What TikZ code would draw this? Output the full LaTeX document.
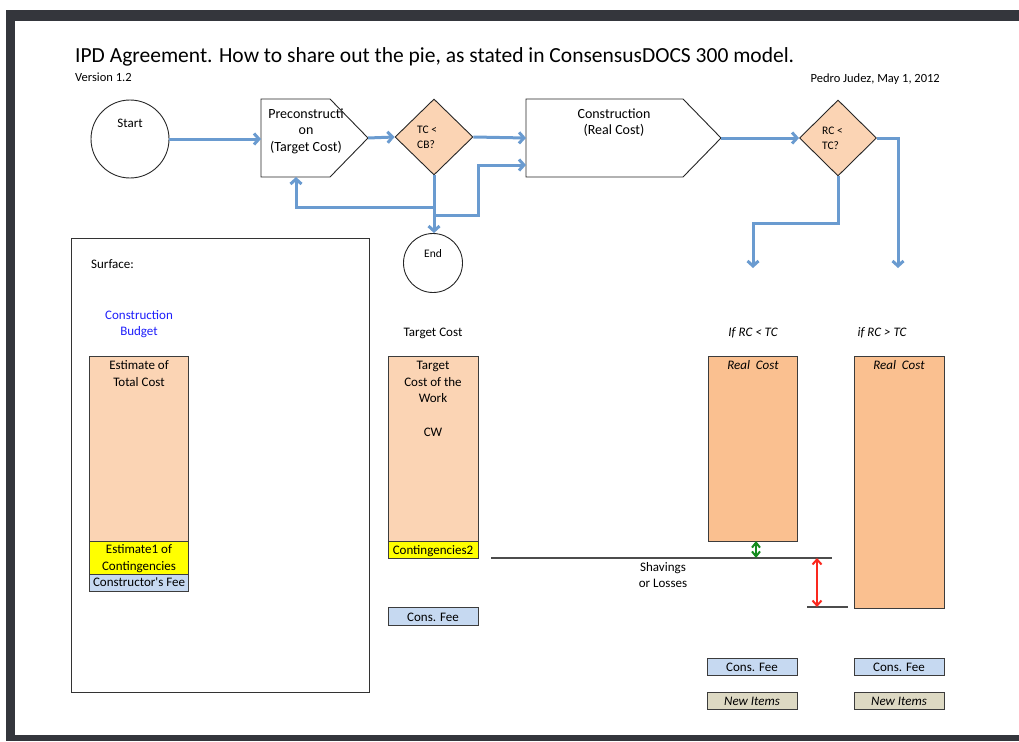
\documentclass[tikz,border=0pt]{standalone}
\usepackage{fontspec}
\setmainfont{Carlito}
\usetikzlibrary{arrows.meta,shapes.geometric}
\definecolor{framec}{RGB}{52,54,60}
\definecolor{flow}{RGB}{106,155,208}
\definecolor{peach}{RGB}{251,212,180}
\definecolor{realc}{RGB}{250,192,144}
\definecolor{feeblue}{RGB}{198,217,241}
\definecolor{tanc}{RGB}{221,217,195}
\definecolor{budget}{RGB}{30,30,250}
\definecolor{edgec}{RGB}{60,60,60}
\definecolor{yel}{RGB}{255,255,0}
\definecolor{redc}{RGB}{250,40,30}
\definecolor{greenc}{RGB}{20,140,30}
\tikzset{
  arr/.style={draw=flow, line width=3pt, -{Straight Barb[length=5pt,width=11pt]}},
  shapeline/.style={draw=black!85, line width=0.9pt, fill=white},
  bar/.style={draw=edgec, line width=1.3pt, anchor=north west, inner sep=0pt},
  t13/.style={font=\fontsize{13pt}{16.5pt}\selectfont, anchor=base, inner sep=0pt},
  t14/.style={font=\fontsize{14pt}{17pt}\selectfont, anchor=base, inner sep=0pt},
  t11/.style={font=\fontsize{11.5pt}{14pt}\selectfont, anchor=base west, inner sep=0pt},
  t12/.style={font=\fontsize{12.5pt}{15pt}\selectfont, inner sep=0pt},
  it13/.style={font=\fontsize{13pt}{16.5pt}\selectfont\itshape, anchor=base, inner sep=0pt},
  grayline/.style={draw=black!70, line width=1.5pt},
  dimarrow/.style={line width=2pt, {Straight Barb[length=5pt,width=9pt]}-{Straight Barb[length=5pt,width=9pt]}},
}
\begin{document}
\begin{tikzpicture}[x=1pt,y=-1pt]
\useasboundingbox (0,0) rectangle (1019,741);
% page frame
\fill[framec] (6,10) rectangle (1019,21);
\fill[framec] (6,10) rectangle (15,741);
\fill[framec] (6,735) rectangle (1019,741);

% header
\node[anchor=base west, font=\fontsize{21.5pt}{26pt}\selectfont, inner sep=0pt] (title) at (75,63) {IPD Agreement. How to share out the pie, as stated in ConsensusDOCS 300 model.};
\node[t12, anchor=base west] (ver) at (75,82) {Version 1.2};
\node[t12, anchor=base east] (auth) at (940,83) {Pedro Judez, May 1, 2012};

% start
\node[circle, draw=black!85, line width=0.9pt, minimum size=78pt, inner sep=0pt] (start) at (130,139) {};
\node[t13] (starttxt) at (130,128) {Start};

% preconstruction
\coordinate (preNW) at (261,99);
\coordinate (preNE) at (330,99);
\coordinate (preTip) at (368,138);
\coordinate (preSE) at (330,177);
\coordinate (preSW) at (261,177);
\coordinate (preS) at (296,177);
\draw[shapeline] (preNW) -- (preNE) -- (preTip) -- (preSE) -- (preSW) -- cycle;
\node[t14] (pre1) at (306,118) {Preconstructi};
\node[t14] (pre2) at (306,134) {on};
\node[t14] (pre3) at (306,151) {(Target Cost)};

% decision 1
\node[diamond, draw=black!85, line width=0.9pt, fill=peach, minimum width=78pt, minimum height=76pt, inner sep=0pt] (d1) at (434,137) {};
\node[t11] (d1a) at (417,133) {TC <};
\node[t11] (d1b) at (417,148) {CB?};

% construction
\coordinate (conNW) at (526,99);
\coordinate (conNE) at (683,99);
\coordinate (conTip) at (721,138);
\coordinate (conSE) at (683,177);
\coordinate (conSW) at (526,177);
\coordinate (conW) at (526,138);
\coordinate (conW2) at (526,165);
\draw[shapeline] (conNW) -- (conNE) -- (conTip) -- (conSE) -- (conSW) -- cycle;
\node[t14] (con1) at (614,118) {Construction};
\node[t14] (con2) at (614,135) {(Real Cost)};

% decision 2
\node[diamond, draw=black!85, line width=0.9pt, fill=peach, minimum width=77pt, minimum height=76pt, inner sep=0pt] (d2) at (838,138) {};
\node[t11] (d2a) at (822,134) {RC <};
\node[t11] (d2b) at (822,149) {TC?};

% end
\node[circle, draw=black!85, line width=0.9pt, minimum size=59pt, inner sep=0pt] (endc) at (433,263) {};
\node[font=\fontsize{11.5pt}{14pt}\selectfont, anchor=base, inner sep=0pt] (endtxt) at (433,257) {End};

% flow arrows
\coordinate (j1) at (434,207);
\coordinate (j2) at (434,215);
\coordinate (r1) at (753,268);
\coordinate (r2) at (898,268);
\draw[arr] (start.east) -- (start.east -| preSW);
\draw[arr] (preTip) -- (d1.west);
\draw[arr] (d1.east) -- (conW);
\draw[arr] (d1.south) -- (d1.south |- endc.north);
\draw[arr] (j1) -| (preS);
\draw[arr] (j2) -- ++(44,0) |- (conW2);
\draw[arr] (conTip) -- (d2.west);
\draw[arr] (d2.east) -| (r2);
\draw[arr] (d2.south) -- ++(0,47) -| (r1);

% surface panel
\node[draw=black!80, line width=1.3pt, minimum width=298pt, minimum height=454pt, anchor=north west, inner sep=0pt] (surf) at (71,238) {};
\node[t13, anchor=base west] (surftxt) at (91,268) {Surface:};
\node[t13, text=budget] (bud1) at (139,319) {Construction};
\node[t13, text=budget] (bud2) at (139,335) {Budget};

\node[bar, fill=peach, minimum width=99pt, minimum height=185pt] (estTC) at (89,356) {};
\node[bar, fill=yel, minimum width=99pt, minimum height=33pt] (estCont) at (89,541) {};
\node[bar, fill=feeblue, minimum width=99pt, minimum height=17pt] (estFee) at (89,574) {};
\node[t13] (e1) at (139,369) {Estimate of};
\node[t13] (e2) at (139,386) {Total Cost};
\node[t13] (e3) at (139,553) {Estimate1 of};
\node[t13] (e4) at (139,570) {Contingencies};
\node[t13] (e5) at (139,586) {Constructor\textquotesingle s Fee};

% target cost column
\node[t13] (tclab) at (433,336) {Target Cost};
\node[bar, fill=peach, minimum width=90pt, minimum height=185pt] (tcw) at (388,356) {};
\node[bar, fill=yel, minimum width=90pt, minimum height=17pt] (tcont) at (388,541) {};
\node[bar, fill=feeblue, minimum width=90pt, minimum height=18pt] (tfee) at (388,607) {};
\node[t13] (t1) at (433,369) {Target};
\node[t13] (t2) at (433,386) {Cost of the};
\node[t13] (t3) at (433,402) {Work};
\node[t13] (t4) at (433,436) {CW};
\node[t13] (t5) at (433,554) {Contingencies2};
\node[t13] (t6) at (433,621) {Cons. Fee};

% shavings
\coordinate (sl1) at (491,558);
\coordinate (sl2) at (832,558);
\coordinate (sl3) at (807,607);
\coordinate (sl4) at (848,607);
\draw[grayline] (sl1) -- (sl2);
\draw[grayline] (sl3) -- (sl4);
\node[t13] (sh1) at (663,571) {Shavings};
\node[t13] (sh2) at (663,587) {or Losses};
\coordinate (ra) at (817,558);
\coordinate (rb) at (817,607);
\draw[dimarrow, draw=redc] (ra) -- (rb);

% real cost columns
\node[it13] (lab1) at (753,336) {If RC < TC};
\node[it13] (lab2) at (882,336) {if RC > TC};
\node[bar, fill=realc, minimum width=89pt, minimum height=185pt] (rc1) at (708,356) {};
\node[bar, fill=realc, minimum width=90pt, minimum height=252pt] (rc2) at (854,356) {};
\node[it13] (rc1t) at (753,369) {Real\ \ Cost};
\node[it13] (rc2t) at (899,369) {Real\ \ Cost};
\coordinate (ga) at (756,541);
\coordinate (gb) at (756,558);
\draw[line width=2pt, draw=greenc, {Straight Barb[length=5pt,width=8pt]}-{Straight Barb[length=5pt,width=8pt]}] (ga) -- (gb);

\node[bar, fill=feeblue, minimum width=90pt, minimum height=17pt] (cf3) at (707,658) {};
\node[bar, fill=feeblue, minimum width=90pt, minimum height=17pt] (cf4) at (854,658) {};
\node[bar, fill=tanc, minimum width=90pt, minimum height=17pt] (ni1) at (707,692) {};
\node[bar, fill=tanc, minimum width=90pt, minimum height=17pt] (ni2) at (854,692) {};
\node[t13] (cf3t) at (752,671) {Cons. Fee};
\node[t13] (cf4t) at (899,671) {Cons. Fee};
\node[it13] (ni1t) at (752,705) {New Items};
\node[it13] (ni2t) at (899,705) {New Items};
\end{tikzpicture}
\end{document}
